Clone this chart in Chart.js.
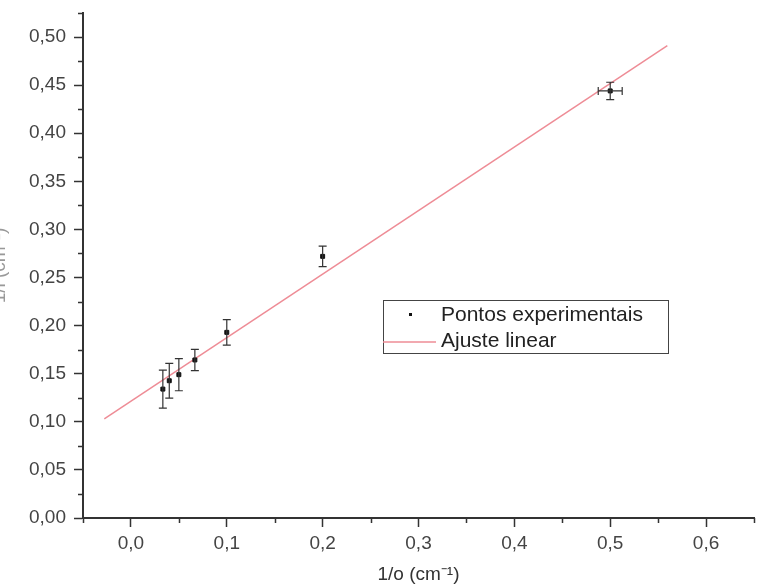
<!DOCTYPE html>
<html>
<head>
<meta charset="utf-8">
<script src="https://cdn.jsdelivr.net/npm/chart.js@4.4.1/dist/chart.umd.min.js"></script>
<style>
  html, body { margin: 0; padding: 0; background: #fff; overflow: hidden; }
  #wrap { position: absolute; left: -12px; top: 0; width: 771px; height: 586px; }
</style>
</head>
<body>
<div id="wrap"><canvas id="chart"></canvas></div>
<script>
Chart.defaults.font.family = "'Liberation Sans', Arial, sans-serif";
Chart.defaults.color = '#444';

// measured points: 1/o against 1/i, with their uncertainties
const inv_o = [0.0333, 0.04, 0.05, 0.0667, 0.1, 0.2, 0.5];
const inv_i = [0.134, 0.1427, 0.149, 0.1643, 0.193, 0.272, 0.444];
const err_i = [0.0198, 0.018, 0.0167, 0.011, 0.0133, 0.0107, 0.009];
const err_o = [0, 0, 0, 0, 0, 0, 0.0125];

// ends of the fitted straight line
const fit_x = [-0.0278, 0.5596];
const fit_y = [0.103, 0.491];

const legend_labels = ['Pontos experimentais', 'Ajuste linear'];

const point_color = '#111';
const fit_color = 'rgb(238, 140, 150)';
const axis_color = '#333';

const points = inv_o.map((x, i) => ({ x: x, y: inv_i[i] }));
const fitLine = fit_x.map((x, i) => ({ x: x, y: fit_y[i] }));

function isMajor(value, step) {
    return Math.round(value / step) % 2 === 0;
}

// vertical and horizontal error bars for the measured points
const errorBars = {
    id: 'errorBars',
    afterDatasetsDraw(chart) {
        const ctx = chart.ctx;
        const xs = chart.scales.x, ys = chart.scales.y;
        const cap = 4;
        ctx.save();
        ctx.strokeStyle = axis_color;
        ctx.lineWidth = 1.2;
        inv_o.forEach((x, i) => {
            const px = xs.getPixelForValue(x);
            const py = ys.getPixelForValue(inv_i[i]);
            const top = ys.getPixelForValue(inv_i[i] + err_i[i]);
            const bot = ys.getPixelForValue(inv_i[i] - err_i[i]);
            ctx.beginPath();
            ctx.moveTo(px, top); ctx.lineTo(px, bot);
            ctx.moveTo(px - cap, top); ctx.lineTo(px + cap, top);
            ctx.moveTo(px - cap, bot); ctx.lineTo(px + cap, bot);
            if (err_o[i] > 0) {
                const l = xs.getPixelForValue(x - err_o[i]);
                const r = xs.getPixelForValue(x + err_o[i]);
                ctx.moveTo(l, py); ctx.lineTo(r, py);
                ctx.moveTo(l, py - cap); ctx.lineTo(l, py + cap);
                ctx.moveTo(r, py - cap); ctx.lineTo(r, py + cap);
            }
            ctx.stroke();
        });
        ctx.restore();
    }
};

// short minor ticks between the labelled ones
const minorTicks = {
    id: 'minorTicks',
    afterDraw(chart) {
        const ctx = chart.ctx;
        const xs = chart.scales.x, ys = chart.scales.y;
        const area = chart.chartArea;
        ctx.save();
        ctx.strokeStyle = axis_color;
        ctx.lineWidth = 1.5;
        ctx.beginPath();
        xs.ticks.forEach(t => {
            if (isMajor(t.value, 0.05)) return;
            const px = Math.round(xs.getPixelForValue(t.value)) + 0.5;
            ctx.moveTo(px, area.bottom);
            ctx.lineTo(px, area.bottom + 5);
        });
        ys.ticks.forEach(t => {
            if (isMajor(t.value, 0.025)) return;
            const py = Math.round(ys.getPixelForValue(t.value)) + 0.5;
            ctx.moveTo(area.left, py);
            ctx.lineTo(area.left - 5, py);
        });
        ctx.stroke();
        ctx.restore();
    }
};

// boxed legend inside the plot
const boxLegend = {
    id: 'boxLegend',
    afterDraw(chart) {
        const ctx = chart.ctx;
        const area = chart.chartArea;
        const left = area.left + 300, top = area.top + 287;
        const w = 285, h = 53;
        ctx.save();
        ctx.strokeStyle = '#444';
        ctx.lineWidth = 1;
        ctx.strokeRect(left + 0.5, top + 0.5, w, h);
        ctx.fillStyle = point_color;
        ctx.fillRect(left + 26, top + 13, 3, 3);
        ctx.strokeStyle = fit_color;
        ctx.lineWidth = 1.5;
        ctx.beginPath();
        ctx.moveTo(left, top + 42);
        ctx.lineTo(left + 53, top + 42);
        ctx.stroke();
        ctx.fillStyle = '#222';
        ctx.font = "21px 'Liberation Sans', Arial, sans-serif";
        ctx.textBaseline = 'middle';
        ctx.fillText(legend_labels[0], left + 58, top + 15);
        ctx.fillText(legend_labels[1], left + 58, top + 41);
        ctx.restore();
    }
};

new Chart(document.getElementById('chart'), {
    type: 'scatter',
    data: {
        datasets: [{
            type: 'line',
            label: legend_labels[1],
            data: fitLine,
            borderColor: fit_color,
            borderWidth: 1.5,
            pointRadius: 0,
            order: 2
        },
        {
            label: legend_labels[0],
            data: points,
            backgroundColor: point_color,
            borderColor: point_color,
            pointStyle: 'rect',
            pointRadius: 2.8,
            order: 1
        }]
    },
    options: {
        responsive: true,
        maintainAspectRatio: false,
        animation: false,
        layout: { padding: { top: 13, right: 0, left: 0, bottom: 0 } },
        plugins: {
            legend: { display: false },
            tooltip: { enabled: false }
        },
        scales: {
            x: {
                type: 'linear',
                min: -0.05,
                max: 0.65,
                afterFit(scale) {
                    scale.height = 68;
                    scale.paddingLeft = 0;
                    scale.paddingRight = 0;
                },
                border: { display: true, color: axis_color, width: 2 },
                grid: {
                    drawOnChartArea: false,
                    tickLength: 9,
                    tickWidth: 1.5,
                    tickColor: ctx => (ctx.tick && isMajor(ctx.tick.value, 0.05)) ? axis_color : 'rgba(0,0,0,0)'
                },
                ticks: {
                    stepSize: 0.05,
                    includeBounds: false,
                    maxRotation: 0,
                    autoSkip: false,
                    padding: 5,
                    font: { size: 19 },
                    callback: v => isMajor(v, 0.05) ? v.toFixed(1).replace('.', ',').replace('-0,0', '0,0') : ''
                },
                title: {
                    display: true,
                    text: '1/o (cm\u207B\u00B9)',
                    font: { size: 19 },
                    color: '#333',
                    padding: { top: 0, bottom: 0 }
                }
            },
            y: {
                min: 0,
                max: 0.525,
                afterFit(scale) {
                    scale.width = 95;
                    scale.paddingTop = 0;
                    scale.paddingBottom = 0;
                },
                border: { display: true, color: axis_color, width: 2 },
                grid: {
                    drawOnChartArea: false,
                    tickLength: 9,
                    tickWidth: 1.5,
                    tickColor: ctx => (ctx.tick && isMajor(ctx.tick.value, 0.025)) ? axis_color : 'rgba(0,0,0,0)'
                },
                ticks: {
                    stepSize: 0.025,
                    includeBounds: false,
                    autoSkip: false,
                    padding: 8,
                    font: { size: 19 },
                    callback: v => isMajor(v, 0.025) ? v.toFixed(2).replace('.', ',') : ''
                },
                title: {
                    display: true,
                    text: '1/i (cm\u207B\u00B9)',
                    font: { size: 19 },
                    color: '#999',
                    padding: { top: 0, bottom: 0 }
                }
            }
        }
    },
    plugins: [errorBars, minorTicks, boxLegend]
});
</script>
</body>
</html>
